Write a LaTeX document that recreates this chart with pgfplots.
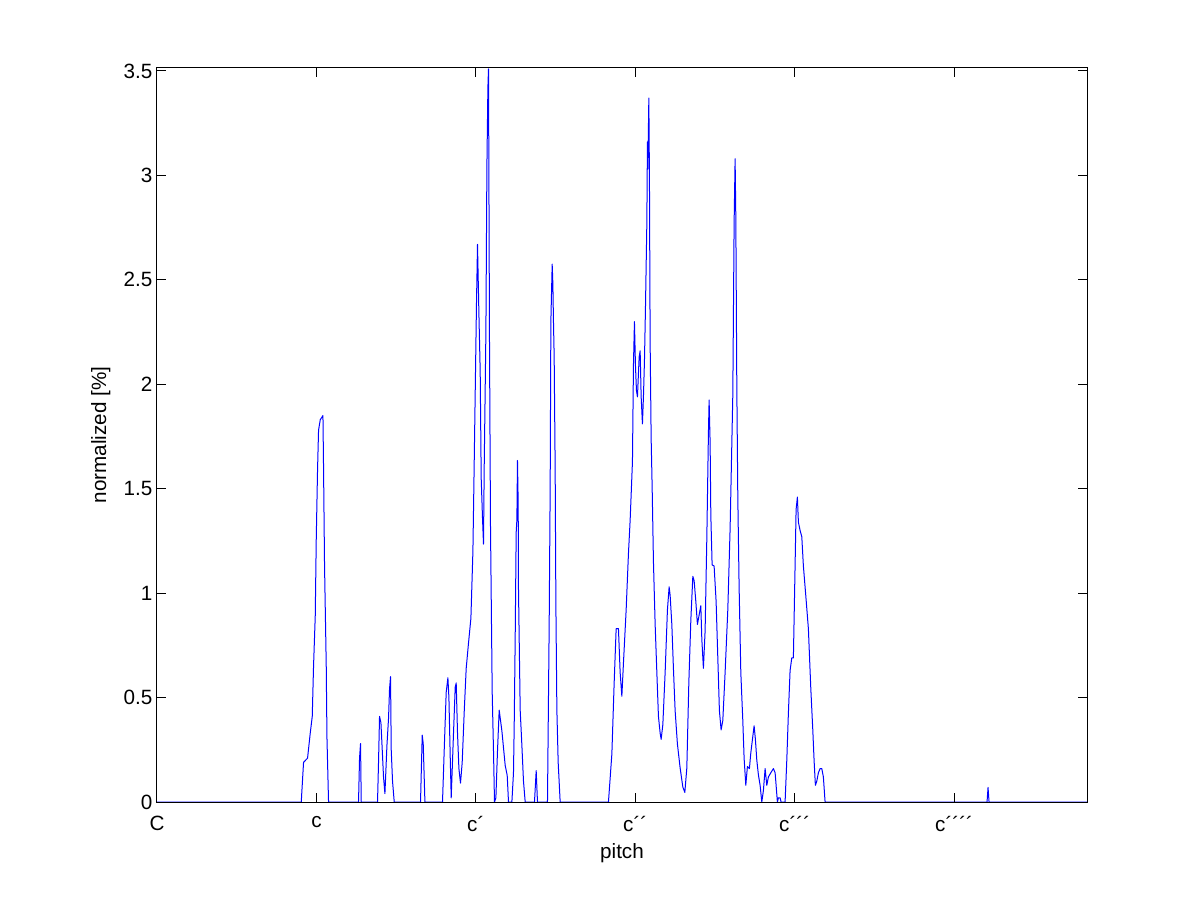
\documentclass[border=0pt]{standalone}
\usepackage{fontspec}
\setmainfont{Liberation Sans}
\usepackage{pgfplots}
\pgfplotsset{compat=1.18}
\begin{document}
\begin{tikzpicture}
\path[use as bounding box] (-117.75pt,-74.25pt) rectangle (783pt,601.5pt);
\begin{axis}[
  at={(0pt,0pt)}, anchor=south west,
  width=697.5pt, height=550.5pt, scale only axis,
  xmin=0, xmax=70, ymin=0, ymax=3.514,
  axis on top,
  axis line style={line width=0.75pt, black},
  tick style={line width=0.75pt, black},
  major tick length=7pt,
  tick align=inside,
  xtick pos=both, ytick pos=both,
  xtick={0,12,24,36,48,60},
  xticklabels={C,c,c´,c´´,c´´´,c´´´´},
  ytick={0,0.5,1,1.5,2,2.5,3,3.5},
  yticklabels={0,0.5,1,1.5,2,2.5,3,3.5},
  tick label style={font=\fontsize{15.5}{18}\selectfont},
  xticklabel style={yshift=-7pt},
  label style={font=\fontsize{15.5}{18}\selectfont},
  xlabel={pitch},
  xlabel style={yshift=-2.5pt},
  ylabel={normalized [\%]},
  ylabel style={yshift=3pt},
]
\addplot[color={rgb,255:red,0;green,0;blue,255}, line width=0.75pt, line join=round] coordinates {
(0,0) (10.858,0) (11.031,0.19) (11.332,0.21) (11.535,0.33) (11.686,0.41) (11.783,0.65) (11.911,0.89) (11.987,1.26) (12.084,1.59) (12.160,1.78) (12.288,1.83) (12.491,1.85) (12.536,1.60) (12.611,1.13) (12.739,0.65) (12.792,0.31) (12.912,0)
(15.169,0) (15.245,0.21) (15.320,0.28) (15.373,0)
(16.599,0) (16.674,0.19) (16.750,0.41) (16.855,0.38) (16.953,0.25) (17.050,0.12) (17.156,0.04) (17.306,0.27) (17.427,0.40) (17.502,0.54) (17.578,0.60) (17.630,0.25) (17.728,0.10) (17.856,0)
(19.835,0) (19.963,0.32) (20.038,0.28) (20.166,0)
(21.490,0) (21.640,0.29) (21.768,0.525) (21.896,0.595) (21.972,0.50) (22.069,0.22) (22.145,0.02) (22.318,0.33) (22.446,0.55) (22.521,0.57) (22.619,0.33) (22.724,0.16) (22.844,0.09) (22.972,0.19) (23.123,0.43) (23.273,0.64) (23.446,0.76) (23.627,0.88) (23.778,1.20) (23.875,1.62) (24.048,2.39) (24.124,2.67) (24.229,2.34) (24.327,2.06) (24.402,1.55) (24.500,1.36) (24.575,1.235) (24.628,1.60) (24.756,2.25) (24.831,3.04) (24.906,3.42) (24.952,3.51) (25.027,2.20) (25.102,1.32) (25.230,0.525) (25.328,0.245) (25.403,0) (25.508,0.02) (25.629,0.245) (25.756,0.44) (25.960,0.34) (26.208,0.175) (26.359,0.128) (26.457,0)
(26.712,0) (26.832,0.14) (26.885,0.36) (26.960,0.78) (27.035,1.29) (27.088,1.35) (27.133,1.635) (27.186,1.43) (27.209,1.02) (27.337,0.44) (27.465,0.27) (27.585,0.10) (27.713,0)
(28.413,0) (28.541,0.15) (28.638,0)
(29.391,0) (29.519,0.85) (29.594,1.51) (29.646,2.30) (29.745,2.575) (29.797,2.48) (29.842,2.30) (29.895,2.13) (29.970,1.59) (30.023,0.95) (30.098,0.44) (30.196,0.19) (30.346,0)
(33.981,0) (34.237,0.23) (34.410,0.57) (34.560,0.83) (34.733,0.83) (34.861,0.62) (34.989,0.506) (35.110,0.666) (35.313,0.92) (35.486,1.19) (35.614,1.35) (35.787,1.63) (35.862,2.09) (35.937,2.30) (36.013,2.09) (36.088,1.97) (36.163,1.94) (36.291,2.13) (36.366,2.16) (36.442,1.94) (36.539,1.81) (36.614,1.94) (36.690,2.11) (36.765,2.36) (36.870,2.77) (36.915,3.16) (36.945,3.03) (37.021,3.37) (37.066,2.98) (37.118,2.20) (37.194,1.74) (37.269,1.51) (37.367,1.15) (37.495,0.85) (37.623,0.62) (37.743,0.41) (37.871,0.33) (37.946,0.30) (38.074,0.37) (38.247,0.62) (38.420,0.92) (38.548,1.03) (38.623,0.99) (38.751,0.85) (38.871,0.64) (38.999,0.437) (39.172,0.277) (39.376,0.163) (39.579,0.072) (39.729,0.046) (39.880,0.163) (40.030,0.57) (40.181,0.87) (40.331,1.08) (40.429,1.06) (40.557,0.96) (40.677,0.85) (40.805,0.895) (40.933,0.94) (41.008,0.78) (41.128,0.64) (41.256,0.82) (41.384,1.26) (41.505,1.765) (41.557,1.925) (41.633,1.72) (41.685,1.376) (41.783,1.135) (41.933,1.13) (42.084,0.96) (42.212,0.69) (42.332,0.437) (42.460,0.345) (42.588,0.39) (42.761,0.62) (42.964,0.92) (43.138,1.31) (43.341,1.95) (43.439,2.77) (43.514,3.08) (43.567,2.80) (43.642,1.99) (43.717,1.46) (43.815,1.03) (43.943,0.62) (44.093,0.39) (44.191,0.21) (44.319,0.08) (44.439,0.17) (44.590,0.16) (44.695,0.235) (44.944,0.365) (45.041,0.30) (45.147,0.20) (45.267,0.13) (45.395,0.08) (45.523,0) (45.644,0.055) (45.772,0.16) (45.899,0.08) (46.020,0.12) (46.201,0.14) (46.396,0.16) (46.525,0.14) (46.600,0.08) (46.697,0) (46.772,0.02) (46.900,0.02) (46.975,0)
(47.276,0) (47.404,0.20) (47.524,0.425) (47.652,0.63) (47.780,0.69) (47.900,0.69) (48.028,1.13) (48.104,1.40) (48.202,1.46) (48.277,1.34) (48.405,1.30) (48.533,1.27) (48.653,1.13) (48.856,0.97) (49.029,0.83) (49.210,0.545) (49.361,0.345) (49.458,0.20) (49.556,0.08) (49.662,0.10) (49.782,0.14) (49.910,0.16) (50.038,0.16) (50.158,0.12) (50.286,0)
(62.477,0) (62.552,0.07) (62.627,0) (70,0)
};
\end{axis}
\end{tikzpicture}
\end{document}
